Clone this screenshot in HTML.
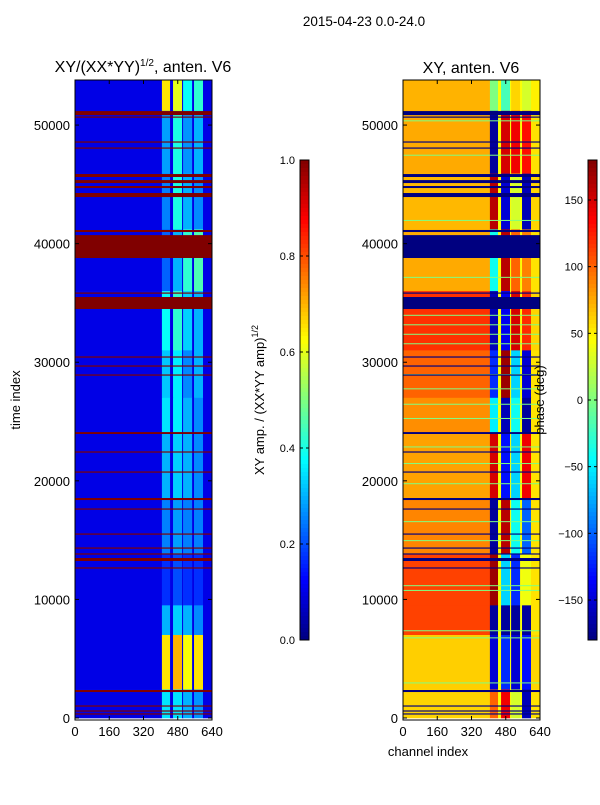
<!DOCTYPE html>
<html><head><meta charset="utf-8"><style>
body{margin:0;background:#fff;}
svg text{font-family:"Liberation Sans",sans-serif;font-size:13px;fill:#000;}
</style></head><body>
<svg id="fig" width="600" height="800" xmlns="http://www.w3.org/2000/svg">
<rect width="600" height="800" fill="#fff"/>
<g id="left"></g>
<g id="right"></g>
<g id="cb1"></g>
<g id="cb2"></g>
<g id="axes"></g>
<text x="364" y="26" text-anchor="middle" style="font-size:13.5px">2015-04-23 0.0-24.0</text>
<text x="143" y="72" text-anchor="middle" style="font-size:16px">XY/(XX*YY)<tspan dy="-6" style="font-size:10px">1/2</tspan><tspan dy="6">, anten. V6</tspan></text>
<text x="471" y="73" text-anchor="middle" style="font-size:16px">XY, anten. V6</text>
<text transform="translate(20,400) rotate(-90)" text-anchor="middle">time index</text>
<text x="428" y="756" text-anchor="middle">channel index</text>
<text transform="translate(264,400) rotate(-90)" text-anchor="middle">XY amp. / (XX*YY amp)<tspan dy="-6" style="font-size:9px">1/2</tspan></text>
<text transform="translate(544,400) rotate(-90)" text-anchor="middle">phase (deg)</text>
</svg>
<script>
const segStart=[51200,45900,41200,36000,31000,27000,24000,18500,13800,9500,7000,2400,0];
const segEnd  =[53800,51200,45900,41200,36000,31000,27000,24000,18500,13800,9500,7000,2400];
const ampG1=[0.65,0.28,0.25,0.22,0.38,0.32,0.35,0.3,0.25,0.17,0.3,0.65,0.35];
const ampG2=[0.6,0.4,0.4,0.3,0.42,0.36,0.36,0.33,0.28,0.2,0.33,0.7,0.35];
const ampG3=[0.38,0.27,0.3,0.42,0.33,0.26,0.3,0.3,0.25,0.17,0.3,0.62,0.3];
const ampG4=[0.42,0.3,0.26,0.45,0.3,0.3,0.26,0.26,0.25,0.17,0.26,0.65,0.27];
const ampBulk=[0.1,0.1,0.1,0.1,0.1,0.1,0.1,0.1,0.1,0.1,0.1,0.1,0.1];
const phBulk=[72,75,70,75,118,100,85,78,88,112,112,62,60];
const phG1=[0,-170,160,-40,-160,-120,-50,150,-170,170,-170,-150,100];
const phG2=[-20,150,-150,160,-140,170,-160,-130,160,-60,-170,-120,140];
const phG3=[60,140,30,100,150,-60,-40,-60,-40,-120,-170,-150,30];
const phG4=[30,130,-160,90,120,-150,-170,140,-100,40,-170,-130,-160];
const phEdge=[50,55,60,55,60,55,55,55,55,55,55,60,55];
const flagStart=[50840,50620,48520,48010,45620,45110,44690,43930,40980,38790,35780,34490,30390,29630,28870,23950,22380,20690,18380,17570,15460,14280,13780,13240,12600,2190,960,540,290];
const flagEnd  =[51180,50720,48620,48110,45870,45360,44860,44270,41150,40720,35880,35500,30490,29730,28970,24110,22480,20790,18550,17670,15560,14380,13880,13490,12700,2360,1060,640,390];
const greenLines=[50400,47500,42000,37200,34000,33200,32400,31600,29000,27800,26500,25300,22900,21500,19800,16600,15000,11200,10800,7400,6800,3000];
const chanG1=[406,444],chanG2=[458,500],chanG3=[505,547],chanG4=[556,598];
const chanMax=640,tMax=53800;
const xTicks=[0,160,320,480,640];
const yTicks=[0,10000,20000,30000,40000,50000];
const ampTicks=[0.0,0.2,0.4,0.6,0.8,1.0];
const phTicks=[-150,-100,-50,0,50,100,150];

const NS="http://www.w3.org/2000/svg";
function jet(v){v=Math.max(0,Math.min(1,v));const c=a=>Math.round(255*Math.max(0,Math.min(1,1.5-Math.abs(4*v-a))));return `rgb(${c(3)},${c(2)},${c(1)})`;}
const yS=t=>718-t*(638/tMax);
function xS(ch,off){return off+ch/chanMax*137;}
function rect(g,x,y,w,h,f,name){const r=document.createElementNS(NS,'rect');r.setAttribute('x',x);r.setAttribute('y',y);r.setAttribute('width',w);r.setAttribute('height',Math.max(h,0.8));r.setAttribute('fill',f);


g.appendChild(r);return r;}
function line(g,x1,y1,x2,y2,name){const l=document.createElementNS(NS,'line');l.setAttribute('x1',x1);l.setAttribute('y1',y1);l.setAttribute('x2',x2);l.setAttribute('y2',y2);l.setAttribute('stroke','#000');l.setAttribute('stroke-width','1');


g.appendChild(l);}
function text(g,x,y,s,anchor,name){const t=document.createElementNS(NS,'text');t.setAttribute('x',x);t.setAttribute('y',y);t.setAttribute('text-anchor',anchor);t.textContent=s;


g.appendChild(t);}

function panel(g,off,vals,flagColor,gapColor,isPhase){
  const norm=isPhase?(p=>(p+180)/360):(a=>a);
  for(let i=0;i<segStart.length;i++){
    const y0=yS(segEnd[i]),h=yS(segStart[i])-y0;
    const cols=[[0,chanG1[0],vals.bulk[i]],[chanG1[0],chanG1[1],vals.g1[i]],[chanG1[1],chanG2[0],null],[chanG2[0],chanG2[1],vals.g2[i]],[chanG2[1],chanG3[0],null],[chanG3[0],chanG3[1],vals.g3[i]],[chanG3[1],chanG4[0],null],[chanG4[0],chanG4[1],vals.g4[i]],[chanG4[1],chanMax,vals.edge[i]]];
    cols.forEach(c=>{const f=c[2]===null?gapColor:jet(norm(c[2]));rect(g,xS(c[0],off),y0,xS(c[1],off)-xS(c[0],off)+0.3,h+0.3,f,'heatmap-cell');});
  }
  if(isPhase){greenLines.forEach(t=>rect(g,off,yS(t),137,1,jet(0.5),'phase-line'));}
  for(let i=0;i<flagStart.length;i++){const y0=yS(flagEnd[i]);rect(g,off,y0,137,yS(flagStart[i])-y0,flagColor,'flagged-band');}
}
panel(document.getElementById('left'),75,{bulk:ampBulk,g1:ampG1,g2:ampG2,g3:ampG3,g4:ampG4,edge:ampBulk},jet(1),jet(0.1),false);
panel(document.getElementById('right'),403,{bulk:phBulk,g1:phG1,g2:phG2,g3:phG3,g4:phG4,edge:phEdge},jet(0),jet(0.62),true);

const ax=document.getElementById('axes');
[75,403].forEach((off,k)=>{
  const fr=document.createElementNS(NS,'rect');fr.setAttribute('x',off);fr.setAttribute('y',80);fr.setAttribute('width',137);fr.setAttribute('height',640);fr.setAttribute('fill','none');fr.setAttribute('stroke','#000');
  
  
  ax.appendChild(fr);
  xTicks.forEach(v=>{const x=xS(v,off);line(ax,x,720,x,716,'x-tick');line(ax,x,80,x,84,'x-tick');text(ax,x,736,String(v),'middle','x-tick-label');});
  yTicks.forEach(v=>{const y=yS(v);line(ax,off,y,off+4,y,'y-tick');line(ax,off+137,y,off+133,y,'y-tick');text(ax,off-5,y+5,String(v),'end','y-tick-label');});
});
function cbar(g,x,norm,ticks,fmt){
  for(let i=0;i<120;i++){rect(g,x,160+i*4,9,4.3,jet(1-(i+0.5)/120),'colorbar-segment');}
  const fr=document.createElementNS(NS,'rect');fr.setAttribute('x',x);fr.setAttribute('y',160);fr.setAttribute('width',9);fr.setAttribute('height',480);fr.setAttribute('fill','none');fr.setAttribute('stroke','#000');
  
  
  g.appendChild(fr);
  ticks.forEach(v=>{const y=640-norm(v)*480;line(g,x,y,x+3,y,'colorbar-tick');line(g,x+9,y,x+6,y,'colorbar-tick');
    const t=document.createElementNS(NS,'text');t.setAttribute('x',x-5);t.setAttribute('y',y+4);t.setAttribute('text-anchor','end');t.setAttribute('style','font-size:11px');t.textContent=fmt(v);
    
    
    g.appendChild(t);});
}
cbar(document.getElementById('cb1'),300,v=>v,ampTicks,v=>v.toFixed(1));
cbar(document.getElementById('cb2'),588,v=>(v+180)/360,phTicks,v=>v<0?'\u2212'+(-v):String(v));
</script>
</body></html>
